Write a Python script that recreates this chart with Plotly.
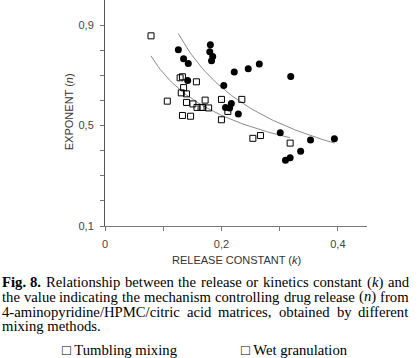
import numpy as np
import plotly.graph_objects as go

# ---------------- data ----------------
sq_k = [0.079, 0.107, 0.129, 0.133, 0.135, 0.131, 0.140, 0.140, 0.133, 0.147,
        0.157, 0.151, 0.158, 0.165, 0.168, 0.172, 0.178, 0.200, 0.200, 0.211,
        0.235, 0.254, 0.267, 0.318]
sq_n = [0.857, 0.597, 0.690, 0.694, 0.651, 0.630, 0.626, 0.592, 0.540, 0.537,
        0.674, 0.586, 0.572, 0.572, 0.572, 0.601, 0.570, 0.604, 0.523, 0.556,
        0.604, 0.449, 0.460, 0.430]

ci_k = [0.126, 0.135, 0.143, 0.142, 0.181, 0.180, 0.185, 0.183, 0.204, 0.222,
        0.246, 0.265, 0.319, 0.207, 0.214, 0.217, 0.229, 0.301, 0.310, 0.318,
        0.336, 0.353, 0.394]
ci_n = [0.802, 0.766, 0.747, 0.679, 0.822, 0.794, 0.775, 0.758, 0.659, 0.713,
        0.726, 0.745, 0.695, 0.572, 0.570, 0.588, 0.546, 0.471, 0.362, 0.372,
        0.398, 0.442, 0.447]

x_tickvals = [0, 0.1, 0.2, 0.3, 0.4]
x_ticktext = ["0", "", "0,2", "", "0,4"]
y_tickvals = [0.1, 0.2, 0.3, 0.4, 0.5, 0.6, 0.7, 0.8, 0.9]
y_ticktext = ["0,1", "", "", "", "0,5", "", "", "", "0,9"]

caption_lines = [
    [["<b>Fig.</b>", "b:Fig."], ["<b>8.</b>", "b:8."], "Relationship", "between", "the",
     "release", "or", "kinetics", "constant", ["(<i>k</i>)", "r:(|i:k|r:)"], "and"],
    ["the", "value", "indicating", "the", "mechanism", "controlling", "drug", "release",
     ["(<i>n</i>)", "r:(|i:n|r:)"], "from"],
    ["4-aminopyridine/HPMC/citric", "acid", "matrices,", "obtained", "by", "different"],
]
last_line = "mixing methods."
legend_items = ["□ Tumbling mixing", "□ Wet granulation"]

# ---------------- power-law trend lines fitted to the data (log-log regression) ----------------
def power_fit(k, n):
    k = np.asarray(k); n = np.asarray(n)
    b, lna = np.polyfit(np.log(k), np.log(n), 1)
    kk = np.linspace(k.min(), k.max(), 60)
    return kk, np.exp(lna) * kk ** b

fk_sq, fn_sq = power_fit(sq_k, sq_n)
fk_ci, fn_ci = power_fit(ci_k, ci_n)

fig = go.Figure()
fig.add_trace(go.Scatter(x=fk_sq, y=fn_sq, mode="lines",
                         line=dict(color="#8a8a8a", width=1), showlegend=False, hoverinfo="skip"))
fig.add_trace(go.Scatter(x=fk_ci, y=fn_ci, mode="lines",
                         line=dict(color="#8a8a8a", width=1), showlegend=False, hoverinfo="skip"))
fig.add_trace(go.Scatter(x=sq_k, y=sq_n, mode="markers", name="Tumbling mixing",
                         marker=dict(symbol="square-open", size=6, color="black",
                                     line=dict(width=1, color="black")), showlegend=False))
fig.add_trace(go.Scatter(x=ci_k, y=ci_n, mode="markers", name="Wet granulation",
                         marker=dict(symbol="circle", size=7, color="black"), showlegend=False))

W, H = 420, 358
PX0, PX1, PY_BOT = 105, 367.5, 225.7
ML = PX0
MR = W - PX1
MT = 0
PH = PY_BOT - MT
MB = H - MT - PH
PW = W - ML - MR
y_top = 0.1 + 0.8 * PH / (225.7 - 25.0)

def px(xp):
    return (xp - ML) / PW

def py(yp):
    return 1 - (yp - MT) / PH

axis_font = dict(family="Liberation Sans, Arial, sans-serif", size=11, color="#444")
fig.update_layout(
    width=W, height=H, margin=dict(l=ML, r=MR, t=MT, b=MB),
    paper_bgcolor="white", plot_bgcolor="white",
    xaxis=dict(range=[0, 0.45], tickvals=x_tickvals, ticktext=x_ticktext, ticks="outside",
               ticklen=4, tickcolor="#777", showline=True, linecolor="#777", linewidth=1,
               showgrid=False, zeroline=False, tickfont=axis_font, ticklabelstandoff=4),
    yaxis=dict(range=[0.1, y_top], tickvals=y_tickvals, ticktext=y_ticktext, ticks="outside",
               ticklen=4, tickcolor="#777", showline=True, linecolor="#555", linewidth=1,
               showgrid=False, zeroline=False, tickfont=axis_font, ticklabelstandoff=4),
)

# axis titles
fig.add_annotation(text="RELEASE CONSTANT (<i>k</i>)", xref="paper", yref="paper",
                   x=px(237), y=py(260), showarrow=False, xanchor="center", yanchor="middle",
                   font=dict(family="Liberation Sans, Arial, sans-serif", size=11, color="#333"))
fig.add_annotation(text="EXPONENT (<i>n</i>)", xref="paper", yref="paper", textangle=-90,
                   x=px(69), y=py(112), showarrow=False, xanchor="center", yanchor="middle",
                   font=dict(family="Liberation Sans, Arial, sans-serif", size=11, color="#333"))

# ---------------- caption, justified word by word (Times metrics) ----------------
REG = {' ': 250, '(': 333, ')': 333, ',': 250, '-': 333, '.': 250, '/': 278,
       'A': 722, 'B': 667, 'C': 667, 'D': 722, 'E': 611, 'F': 556, 'G': 722, 'H': 722,
       'I': 333, 'M': 889, 'P': 556, 'R': 667, 'T': 611, 'W': 944,
       'a': 444, 'b': 500, 'c': 444, 'd': 500, 'e': 444, 'f': 333, 'g': 500, 'h': 500,
       'i': 278, 'j': 278, 'k': 500, 'l': 278, 'm': 778, 'n': 500, 'o': 500, 'p': 500,
       'q': 500, 'r': 333, 's': 389, 't': 278, 'u': 500, 'v': 500, 'w': 722, 'x': 500,
       'y': 500, 'z': 444}
for d in "0123456789":
    REG[d] = 500
BOLD = dict(REG); BOLD.update({'F': 611, 'i': 278, 'g': 500})
ITAL = dict(REG); ITAL.update({'k': 444, 'n': 500})
TABLES = {"r": REG, "b": BOLD, "i": ITAL}

FS = 14.7
serif = dict(family="Liberation Serif, Times New Roman, serif", size=FS, color="black")

def word_width(spec):
    total = 0
    for seg in spec.split("|"):
        st, txt = seg.split(":", 1)
        total += sum(TABLES[st].get(c, 500) for c in txt)
    return total * FS / 1000

X0, X1 = 1.5, 409.5
line_y = [282, 296.6, 311.2, 325.6]
for li, words in enumerate(caption_lines):
    items = []
    for w in words:
        if isinstance(w, list):
            items.append((w[0], word_width(w[1])))
        else:
            items.append((w, word_width("r:" + w)))
    tot = sum(wd for _, wd in items)
    gap = (X1 - X0 - tot) / (len(items) - 1)
    xcur = X0
    for txt, wd in items:
        fig.add_annotation(text=txt, xref="paper", yref="paper", x=px(xcur), y=py(line_y[li]),
                           showarrow=False, xanchor="left", yanchor="middle",
                           borderpad=0, borderwidth=0, font=serif)
        xcur += wd + gap

fig.add_annotation(text=last_line, xref="paper", yref="paper", x=px(X0), y=py(line_y[3]),
                   showarrow=False, xanchor="left", yanchor="middle",
                   borderpad=0, borderwidth=0, font=serif)

for xpos, txt in zip([62, 241.5], legend_items):
    fig.add_annotation(text=txt, xref="paper", yref="paper", x=px(xpos), y=py(349.5),
                       showarrow=False, xanchor="left", yanchor="middle",
                       borderpad=0, borderwidth=0, font=serif)

# remove the default 8px body margin so the figure fills the window like the reference
fig.write_html("out.html", config={"displayModeBar": False},
               post_script="document.body.style.margin='0';document.body.style.overflow='hidden';")
